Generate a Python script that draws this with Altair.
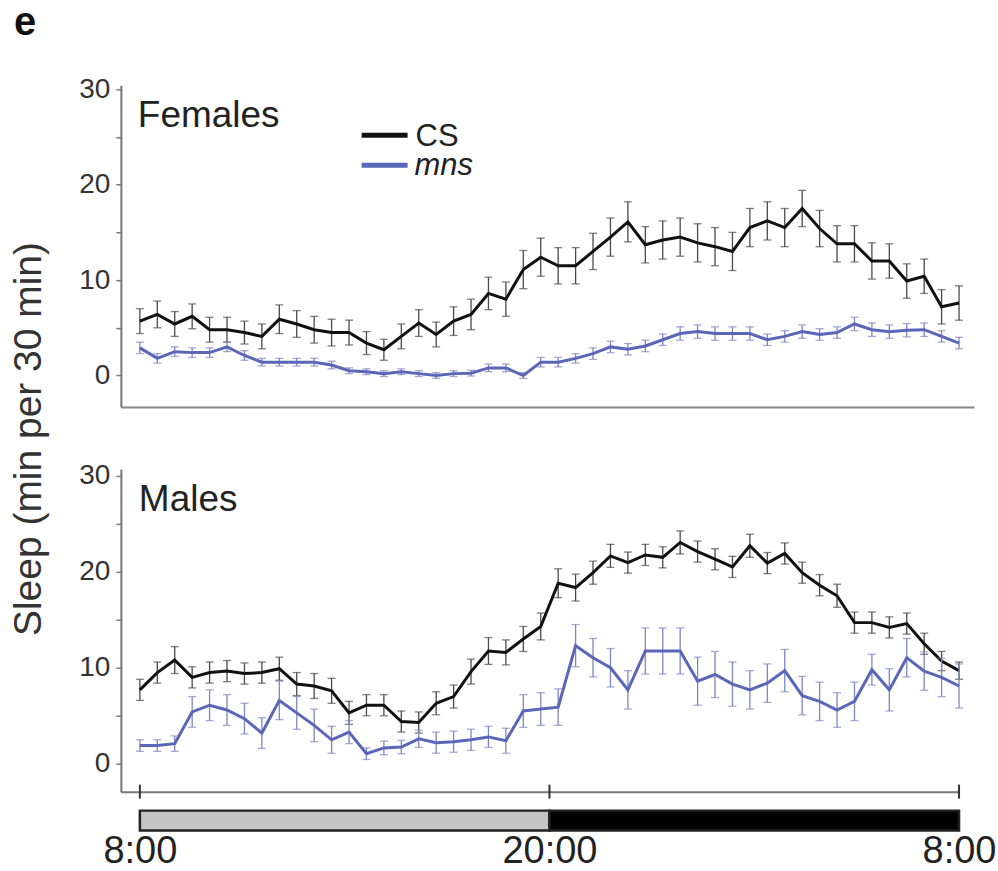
import altair as alt
import pandas as pd

# ---- data (30-min bins, 8:00 -> 8:00) ----
bins = list(range(48))

fem_cs = [5.7, 6.4, 5.4, 6.2, 4.8, 4.8, 4.5, 4.1, 5.9, 5.4,
          4.8, 4.5, 4.5, 3.4, 2.7, 4.1, 5.5, 4.3, 5.7, 6.4,
          8.6, 8.0, 11.1, 12.4, 11.5, 11.5, 13.0, 14.5, 16.1, 13.7,
          14.2, 14.5, 13.9, 13.5, 13.0, 15.5, 16.2, 15.5, 17.5, 15.4,
          13.8, 13.8, 12.0, 12.0, 9.9, 10.4, 7.2, 7.6]
fem_cs_err = [1.3, 1.4, 1.3, 1.3, 1.3, 1.3, 1.2, 1.3, 1.5, 1.4,
              1.4, 1.4, 1.3, 1.2, 1.1, 1.3, 1.4, 1.3, 1.5, 1.6,
              1.7, 1.8, 2.0, 2.0, 1.9, 1.9, 1.9, 2.0, 2.1, 1.9,
              2.0, 2.0, 2.0, 2.0, 2.0, 2.0, 2.0, 2.0, 1.9, 1.9,
              1.9, 1.9, 1.9, 1.8, 1.8, 1.8, 1.8, 1.8]
fem_mns = [2.9, 1.8, 2.5, 2.4, 2.4, 3.0, 2.1, 1.4, 1.4, 1.4,
           1.4, 1.1, 0.5, 0.4, 0.2, 0.4, 0.2, 0.0, 0.2, 0.25,
           0.8, 0.8, 0.0, 1.4, 1.4, 1.8, 2.3, 3.0, 2.75, 3.1,
           3.75, 4.4, 4.6, 4.4, 4.4, 4.4, 3.75, 4.1, 4.6, 4.3,
           4.5, 5.4, 4.8, 4.6, 4.75, 4.8, 4.1, 3.4]
fem_mns_err = [0.6, 0.5, 0.5, 0.5, 0.5, 0.5, 0.5, 0.4, 0.4, 0.4,
               0.4, 0.4, 0.3, 0.3, 0.3, 0.3, 0.3, 0.3, 0.3, 0.3,
               0.4, 0.4, 0.3, 0.5, 0.5, 0.5, 0.6, 0.6, 0.6, 0.6,
               0.6, 0.7, 0.7, 0.7, 0.7, 0.7, 0.6, 0.6, 0.7, 0.6,
               0.6, 0.7, 0.7, 0.7, 0.7, 0.7, 0.6, 0.6]

male_cs = [7.7, 9.5, 10.8, 9.0, 9.5, 9.65, 9.4, 9.5, 9.9, 8.3,
           8.1, 7.6, 5.3, 6.1, 6.1, 4.4, 4.3, 6.3, 7.0, 9.6,
           11.75, 11.6, 13.0, 14.3, 18.8, 18.35, 19.9, 21.65, 20.95, 21.75,
           21.5, 23.05, 22.1, 21.3, 20.5, 22.7, 20.9, 21.9, 19.9, 18.6,
           17.5, 14.7, 14.7, 14.2, 14.6, 12.5, 10.7, 9.7]
male_cs_err = [1.1, 1.1, 1.4, 1.1, 1.1, 1.1, 1.1, 1.1, 1.2, 1.2,
               1.3, 1.3, 1.2, 1.1, 1.1, 1.1, 1.1, 1.2, 1.2, 1.3,
               1.4, 1.3, 1.3, 1.4, 1.5, 1.4, 1.2, 1.2, 1.1, 1.1,
               1.1, 1.2, 1.1, 1.1, 1.1, 1.2, 1.1, 1.1, 1.1, 1.1,
               1.2, 1.1, 1.1, 1.1, 1.1, 1.1, 1.0, 0.9]
male_mns = [1.9, 1.9, 2.1, 5.4, 6.1, 5.6, 4.7, 3.2, 6.6, 5.3,
            4.0, 2.5, 3.3, 1.05, 1.65, 1.75, 2.6, 2.2, 2.3, 2.5,
            2.8, 2.4, 5.5, 5.7, 5.9, 12.3, 11.05, 10.0, 7.7, 11.75,
            11.75, 11.75, 8.6, 9.3, 8.3, 7.7, 8.4, 9.7, 7.1, 6.5,
            5.6, 6.5, 9.8, 7.7, 11.05, 9.65, 9.0, 8.1]
male_mns_err = [0.6, 0.6, 0.8, 1.6, 1.6, 1.6, 1.6, 1.6, 2.0, 1.7,
                1.7, 1.4, 1.2, 0.6, 0.7, 0.7, 0.9, 1.1, 1.1, 1.1,
                1.1, 1.3, 1.7, 1.7, 1.9, 2.2, 2.0, 2.0, 2.0, 2.4,
                2.4, 2.4, 2.5, 2.4, 2.3, 2.0, 2.0, 2.2, 2.0, 2.0,
                1.8, 2.0, 1.6, 2.2, 2.0, 2.0, 2.0, 2.3]

time_tick_values = [0, 23.5, 47]
time_tick_labels = ["8:00", "20:00", "8:00"]
phases = ["light", "dark"]
phase_start = [0, 23.5]
phase_end = [23.5, 47]

series_names = ["CS", "mns"]
line_colors = ["#111111", "#5a67b8"]
err_colors = ["#4a4a4a", "#7d86c2"]

FONT = "Liberation Sans"
W_TOP, H_TOP = 854, 322
W_BOT, H_BOT = 839, 323
X_LEFT = -1.09


def sc(dom):
    return alt.Scale(domain=dom, nice=False, zero=False)


y_axis = alt.Axis(values=[0, 5, 10, 15, 20, 25, 30],
                  labelExpr="datum.value % 10 == 0 ? datum.label : ''",
                  title=None, grid=False, tickSize=5, tickWidth=1.5, tickColor="#777777",
                  domainColor="#777777", domainWidth=2, labelFontSize=28, labelFont=FONT,
                  labelColor="#333333", labelPadding=6)

top_axis = alt.Axis(domain=True, ticks=False, labels=False, title=None, grid=False,
                    domainColor="#888888", domainWidth=2)

bot_axis = alt.Axis(values=time_tick_values,
                    labelExpr="datum.value == 23.5 ? '" + time_tick_labels[1] + "' : '"
                              + time_tick_labels[0] + "'",
                    domain=True, ticks=False, labels=True, title=None, grid=False,
                    domainColor="#777777", domainWidth=2, labelFontSize=38, labelFont=FONT,
                    labelColor="#222222", labelBaseline="alphabetic", labelPadding=71,
                    labelFlush=False, labelOverlap=False, labelBound=False)


def series_layers(vals, errs, lc, ec, xdom, ydom, xaxis):
    df = pd.DataFrame({"bin": bins, "sleep": vals, "err": errs})
    base = alt.Chart(df).transform_calculate(
        lo="datum.sleep - datum.err", hi="datum.sleep + datum.err")
    xs = alt.X("bin:Q", scale=sc(xdom), axis=xaxis)
    rules = base.mark_rule(color=ec, strokeWidth=1.3).encode(
        x=xs, y=alt.Y("lo:Q", scale=sc(ydom), axis=y_axis), y2="hi:Q")
    cap_lo = base.mark_tick(color=ec, orient="horizontal", size=8, thickness=1.3).encode(
        x=xs, y=alt.Y("lo:Q", scale=sc(ydom), axis=y_axis))
    cap_hi = base.mark_tick(color=ec, orient="horizontal", size=8, thickness=1.3).encode(
        x=xs, y=alt.Y("hi:Q", scale=sc(ydom), axis=y_axis))
    line = base.mark_line(color=lc, strokeWidth=3).encode(
        x=xs, y=alt.Y("sleep:Q", scale=sc(ydom), axis=y_axis))
    return [rules, cap_lo, cap_hi, line]


def text_layer(txt, x, y, **kw):
    return alt.Chart(pd.DataFrame({"t": [txt]})).mark_text(font=FONT, **kw).encode(
        text="t:N", x=alt.value(x), y=alt.value(y))


# ---------------- top panel (Females) ----------------
xdom_top = [X_LEFT, 47.86]
ydom_top = [-3.3, 30.4]
top_layers = []
top_layers += series_layers(fem_cs, fem_cs_err, line_colors[0], err_colors[0],
                            xdom_top, ydom_top, top_axis)
top_layers += series_layers(fem_mns, fem_mns_err, line_colors[1], err_colors[1],
                            xdom_top, ydom_top, top_axis)

top_layers.append(text_layer("Females", 17, 42, fontSize=37, align="left",
                             baseline="alphabetic", color="#222222"))
top_layers.append(text_layer("e", -107, -50, fontSize=40, fontWeight="bold", align="left",
                             baseline="alphabetic", color="#111111"))
top_layers.append(text_layer("Sleep (min per 30 min)", -92, 354, fontSize=39, angle=270,
                             align="center", baseline="middle", color="#333333"))

# legend
for i, yy in enumerate([50, 80]):
    top_layers.append(alt.Chart(pd.DataFrame({"s": [series_names[i]]})).mark_rule(
        color=line_colors[i], strokeWidth=5).encode(
        x=alt.value(241), x2=alt.value(287), y=alt.value(yy)))
top_layers.append(text_layer(series_names[0], 295, 61, fontSize=31, align="left",
                             baseline="alphabetic", color="#222222"))
top_layers.append(text_layer(series_names[1], 294, 90, fontSize=31, fontStyle="italic",
                             align="left", baseline="alphabetic", color="#222222"))

top = alt.layer(*top_layers).properties(width=W_TOP, height=H_TOP)

# ---------------- bottom panel (Males) ----------------
xdom_bot = [X_LEFT, 47.0]
ydom_bot = [-2.9, 30.7]
bot_layers = []

# light/dark bar
phase_df = pd.DataFrame({"phase": phases, "start": phase_start, "end": phase_end})
bot_layers.append(alt.Chart(phase_df).mark_rect(stroke="#222222", strokeWidth=2.5).encode(
    x=alt.X("start:Q", scale=sc(xdom_bot), axis=bot_axis),
    x2="end:Q",
    y=alt.value(H_BOT + 19), y2=alt.value(H_BOT + 39),
    fill=alt.Fill("phase:N", scale=alt.Scale(domain=phases, range=["#c4c4c4", "#000000"]),
                  legend=None)))
# time ticks crossing the axis
tick_df = pd.DataFrame({"bin": time_tick_values, "lab": time_tick_labels})
bot_layers.append(alt.Chart(tick_df).mark_rule(color="#333333", strokeWidth=2).encode(
    x=alt.X("bin:Q", scale=sc(xdom_bot), axis=bot_axis),
    y=alt.value(H_BOT - 7), y2=alt.value(H_BOT + 7)))

bot_layers += series_layers(male_cs, male_cs_err, line_colors[0], err_colors[0],
                            xdom_bot, ydom_bot, bot_axis)
bot_layers += series_layers(male_mns, male_mns_err, line_colors[1], err_colors[1],
                            xdom_bot, ydom_bot, bot_axis)
bot_layers.append(text_layer("Males", 18, 42, fontSize=37, align="left",
                             baseline="alphabetic", color="#222222"))

bottom = alt.layer(*bot_layers).properties(width=W_BOT, height=H_BOT)

chart = alt.vconcat(top, bottom, spacing=62, bounds="flush").properties(
    padding={"left": 10, "top": 3, "right": 2, "bottom": 3},
    background="white",
).configure_view(stroke=None)

chart.save("out.html", embed_options={"renderer": "svg", "actions": False})
